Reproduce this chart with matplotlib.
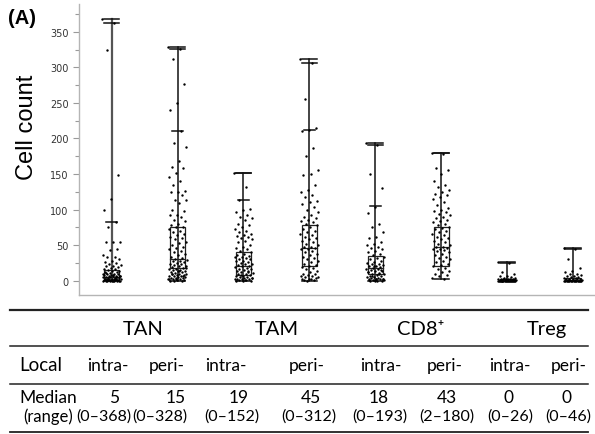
import numpy as np
import matplotlib
matplotlib.use("Agg")
import matplotlib.pyplot as plt
from matplotlib.lines import Line2D

# groups on the x axis
groups = ["TAN intra", "TAN peri", "TAM intra", "TAM peri",
          "CD8 intra", "CD8 peri", "Treg intra", "Treg peri"]

# raw counts (approximate)
tan_intra = [368, 362, 325, 148, 115, 99, 82, 75, 55, 54, 54, 45, 43, 36, 34, 33, 30,
             28, 26, 25, 24, 22, 21, 20, 19, 18, 17, 16, 15, 14, 13, 12, 12, 11, 10, 10,
             9, 9, 8, 8, 7, 7, 6, 6, 5, 5, 5, 5, 4, 4, 4, 3, 3, 3, 2, 2, 2, 2, 1, 1, 1,
             1, 1, 0, 0, 0, 0, 0, 0, 0, 0, 0, 0, 3, 2, 1, 6, 8, 11]
tan_peri = [328, 326, 312, 277, 250, 240, 210, 193, 188, 168, 160, 158, 152, 146, 140,
            134, 126, 125, 125, 121, 114, 113, 109, 100, 98, 92, 92, 90, 86, 84, 80, 78,
            76, 75, 72, 70, 68, 66, 64, 62, 60, 58, 55, 53, 50, 48, 46, 44, 42, 40, 38,
            36, 34, 32, 30, 29, 28, 27, 26, 25, 24, 23, 22, 21, 20, 19, 18, 17, 16, 15,
            15, 14, 13, 12, 12, 11, 10, 10, 9, 8, 8, 7, 6, 6, 5, 5, 4, 4, 3, 3, 2, 2, 1,
            1, 0, 0, 0, 18, 14, 10, 7, 4, 2]
tam_intra = [152, 132, 113, 101, 100, 96, 92, 90, 88, 86, 80, 78, 75, 72, 70, 68, 66,
             64, 63, 62, 60, 58, 56, 54, 50, 48, 46, 44, 42, 40, 38, 36, 35, 34, 33, 32,
             31, 30, 28, 27, 26, 25, 24, 23, 22, 21, 20, 19, 18, 17, 16, 15, 14, 13, 12,
             11, 10, 9, 8, 7, 6, 5, 5, 4, 4, 3, 3, 2, 2, 1, 1, 0, 0, 0, 12, 8, 4, 1]
tam_peri = [312, 306, 255, 215, 212, 210, 186, 175, 155, 150, 148, 135, 128, 125, 120,
            118, 112, 110, 108, 104, 100, 96, 92, 90, 88, 86, 84, 82, 80, 78, 75, 72, 70,
            68, 66, 64, 62, 60, 58, 56, 54, 52, 50, 48, 47, 46, 45, 44, 42, 40, 38, 36,
            34, 32, 30, 28, 26, 24, 22, 20, 19, 18, 16, 14, 12, 10, 9, 8, 7, 6, 5, 4, 3,
            2, 1, 0, 5, 3, 1]
cd8_intra = [193, 191, 150, 130, 104, 95, 80, 75, 68, 62, 60, 55, 52, 50, 48, 46, 44,
             42, 40, 38, 36, 34, 32, 30, 28, 26, 25, 24, 23, 22, 21, 20, 19, 18, 17, 16,
             15, 14, 13, 12, 11, 10, 9, 8, 7, 6, 5, 5, 4, 4, 3, 3, 2, 2, 1, 1, 0, 0, 0, 0,
             12, 9, 6, 3, 2, 1, 15, 20]
cd8_peri = [180, 178, 158, 155, 150, 140, 135, 132, 128, 124, 122, 120, 118, 115, 110,
            106, 102, 100, 98, 96, 94, 92, 90, 88, 86, 84, 82, 80, 78, 76, 74, 72, 70, 68,
            66, 64, 62, 60, 58, 56, 54, 52, 50, 48, 47, 46, 45, 44, 43, 42, 40, 38, 36,
            34, 32, 30, 28, 26, 24, 22, 20, 18, 16, 14, 12, 10, 8, 6, 4, 2]
treg_intra = [26, 25, 12, 9, 7, 6, 5, 4, 4, 3, 3, 3, 2, 2, 2, 2, 1, 1, 1, 1, 1, 1, 0, 0,
              0, 0, 0, 0, 0, 0, 0, 0, 0, 0, 0, 0, 0, 0, 0, 0]
treg_peri = [46, 45, 30, 18, 14, 12, 10, 9, 8, 7, 6, 5, 5, 4, 4, 3, 3, 2, 2, 2, 1, 1, 1,
             1, 0, 0, 0, 0, 0, 0, 0, 0, 0, 0, 0, 0, 0, 0]
series = [tan_intra, tan_peri, tam_intra, tam_peri, cd8_intra, cd8_peri, treg_intra, treg_peri]

# box summary as drawn
q1 = [1, 18, 8, 20, 9, 21, 0, 0]
med = [5, 30, 20, 46, 18, 47, 0, 0]
q3 = [15, 75, 41, 78, 35, 76, 2, 4]
fence = [82, 210, 113, 212, 105, None, None, None]
vmin = [0, 0, 0, 0, 0, 2, 0, 0]
vmax = [368, 328, 152, 312, 193, 180, 26, 46]
cap2 = [362, 326, 151, 306, 191, 179, 25, 45]

# table below
table_heads = ["TAN", "TAM", "CD8\u207a", "Treg"]
local_row = ["intra-", "peri-"] * 4
median_row = ["5", "15", "19", "45", "18", "43", "0", "0"]
range_row = ["(0\u2013368)", "(0\u2013328)", "(0\u2013152)", "(0\u2013312)",
             "(0\u2013193)", "(2\u2013180)", "(0\u201326)", "(0\u201346)"]

W, H = 595, 435
fig = plt.figure(figsize=(W / 100, H / 100), dpi=100)
ax = fig.add_axes([79 / W, 1 - 295.7 / H, 1 - 79 / W, (295.7 - 5) / H])

bw = 0.23
for i, vals in enumerate(series):
    vals = np.array(vals, dtype=float)
    n = len(vals)
    jit = ((np.arange(n) * 0.618034) % 1 - 0.5) * 0.28
    lc = "#555555" if i == 0 else "#111111"
    lw = 1.6 if i == 0 else 1.1
    ax.plot([i, i], [vmin[i], vmax[i]], color=lc, lw=lw, zorder=2)
    for y in (vmax[i], cap2[i], vmin[i]):
        ax.plot([i - bw / 2, i + bw / 2], [y, y], color="#111111", lw=1.1, zorder=2)
    if fence[i] is not None:
        ax.plot([i - 0.08, i + 0.08], [fence[i], fence[i]], color="#111111", lw=1.1, zorder=2)
    ax.add_patch(plt.Rectangle((i - bw / 2, q1[i]), bw, q3[i] - q1[i], fill=False,
                               edgecolor="#222222", lw=0.9, zorder=3))
    ax.plot([i - bw / 2, i + bw / 2], [med[i], med[i]], color="#222222", lw=0.9, zorder=3)
    ax.scatter(i + jit, vals, s=3, color="black", lw=0, zorder=4)

ax.set_xlim(-0.496, 7.334)
ax.set_ylim(-19.7, 389)
ax.set_xticks([])
ax.set_yticks(np.arange(0, 351, 50))
ax.set_yticks(np.arange(25, 376, 50), minor=True)
ax.tick_params(axis="y", which="both", colors="#9a9a9a", labelcolor="#333333",
               labelsize=7, length=4, width=0.8)
ax.tick_params(axis="y", which="minor", length=3)
for s in ("top", "right"):
    ax.spines[s].set_visible(False)
for s in ("left", "bottom"):
    ax.spines[s].set_color("#b5b5b5")
    ax.spines[s].set_linewidth(1.0)

fig.text(27 / W, 1 - 127 / H, "Cell count", rotation=90, ha="center", va="center",
         fontsize=17, family="Liberation Sans")
fig.text(8 / W, 1 - 18 / H, "(A)", ha="left", va="center", fontsize=14.5,
         weight="bold", family="Liberation Sans")

# table
tf = ["Lato", "DejaVu Sans"]
for yp, lwid in ((311, 1.6), (346.7, 1.1), (385, 1.1), (432.7, 1.3)):
    fig.add_artist(Line2D([10 / W, 588 / W], [1 - yp / H] * 2, color="#222222",
                          lw=lwid, transform=fig.transFigure))

local_x = [108, 167, 226, 307, 381, 445, 510, 569]
median_x = [114, 176, 239, 311, 379, 447, 508, 567]
range_x = [104, 160, 232, 309, 380, 447, 510, 568]
head_x = [143, 277, 421, 547]
for t, x in zip(table_heads, head_x):
    fig.text(x / W, 1 - 330 / H, t, ha="center", va="center", fontsize=14.5, family=tf)
fig.text(19 / W, 1 - 366 / H, "Local", ha="left", va="center", fontsize=13.5, family=tf)
fig.text(19 / W, 1 - 398 / H, "Median", ha="left", va="center", fontsize=12.5, family=tf)
fig.text(23 / W, 1 - 416.7 / H, "(range)", ha="left", va="center", fontsize=12, family=tf)
for i in range(8):
    fig.text(local_x[i] / W, 1 - 366 / H, local_row[i], ha="center", va="center",
             fontsize=12.5, family=tf)
    fig.text(median_x[i] / W, 1 - 398 / H, median_row[i], ha="center", va="center",
             fontsize=12.5, family=tf)
    fig.text(range_x[i] / W, 1 - 416.7 / H, range_row[i], ha="center", va="center",
             fontsize=11.5, family=tf)

fig.savefig("out.png", dpi=100)
